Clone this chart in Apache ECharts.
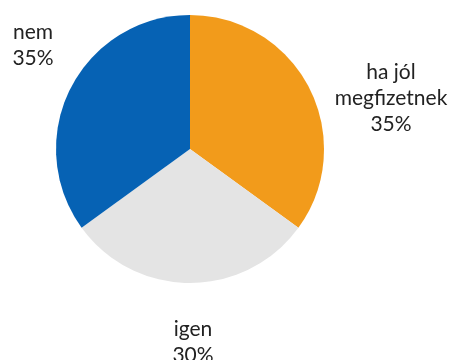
<!DOCTYPE html>
<html>
<head>
<meta charset="utf-8">
<script src="https://cdn.jsdelivr.net/npm/echarts@6/dist/echarts.min.js"></script>
<style>
  html, body { margin: 0; padding: 0; background: #ffffff; }
  #chart { width: 453px; height: 360px; }
</style>
</head>
<body>
<div id="chart"></div>
<script>
// Answer categories and their shares (percent)
const categories = ['ha jól\nmegfizetnek', 'igen', 'nem'];
const shares = [35, 30, 35];
const sliceColors = ['#F29B1B', '#E4E4E4', '#0662B4'];

// Label anchor points (centre of each text block)
const labelAnchors = [[391, 98], [193, 342], [33, 45]];

const chart = echarts.init(document.getElementById('chart'), null, { renderer: 'canvas' });

chart.setOption({
  animation: false,
  backgroundColor: '#ffffff',
  series: [{
    type: 'pie',
    center: [190, 149],
    radius: [0, 134],
    startAngle: 90,
    clockwise: true,
    silent: true,
    data: categories.map((name, i) => ({
      name: name,
      value: shares[i],
      itemStyle: { color: sliceColors[i] }
    })),
    itemStyle: { borderWidth: 0 },
    label: {
      show: true,
      position: 'outside',
      formatter: p => p.name + '\n' + p.value + '%',
      fontFamily: 'Lato',
      fontSize: 21,
      lineHeight: 26,
      color: '#222222',
      align: 'center',
      verticalAlign: 'middle',
      overflow: 'none',
      width: 200
    },
    labelLine: { show: false },
    labelLayout: params => ({
      x: labelAnchors[params.dataIndex][0],
      y: labelAnchors[params.dataIndex][1],
      align: 'center',
      verticalAlign: 'middle'
    })
  }]
});
</script>
</body>
</html>
